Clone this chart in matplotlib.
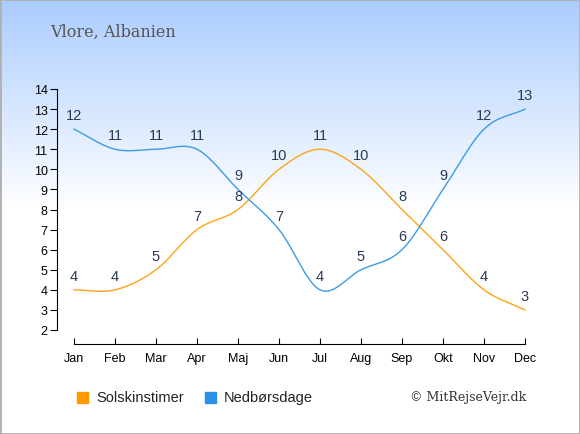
import numpy as np
import matplotlib.pyplot as plt
from matplotlib.patches import Rectangle

months = ["Jan", "Feb", "Mar", "Apr", "Maj", "Jun", "Jul", "Aug", "Sep", "Okt", "Nov", "Dec"]
sun_hours = [4, 4, 5, 7, 8, 10, 11, 10, 8, 6, 4, 3]
rain_days = [12, 11, 11, 11, 9, 7, 4, 5, 6, 9, 12, 13]

sun_color = "#ffa31a"
rain_color = "#3c9be8"
label_color = "#2b3a55"


def smooth(y, steps=30):
    # Catmull-Rom spline through the points, just for drawing
    y = np.asarray(y, dtype=float)
    p = np.concatenate([[2 * y[0] - y[1]], y, [2 * y[-1] - y[-2]]])
    xs, ys = [], []
    for i in range(len(y) - 1):
        p0, p1, p2, p3 = p[i], p[i + 1], p[i + 2], p[i + 3]
        t = np.linspace(0, 1, steps, endpoint=False)
        seg = 0.5 * ((2 * p1) + (-p0 + p2) * t + (2 * p0 - 5 * p1 + 4 * p2 - p3) * t ** 2
                     + (-p0 + 3 * p1 - 3 * p2 + p3) * t ** 3)
        xs.append(i + t)
        ys.append(seg)
    xs.append([len(y) - 1])
    ys.append([y[-1]])
    return np.concatenate(xs), np.concatenate(ys)


W, H = 580, 435
fig = plt.figure(figsize=(W / 100, H / 100), dpi=100)

# gradient background: blue at top, white from about y=210 px down
bg = fig.add_axes([0, 0, 1, 1], zorder=-10)
rows = np.arange(H)[:, None]
grad = np.clip(rows / 210.0, 0, 1)
top = np.array([0.67, 0.80, 1.0])
bot = np.array([1.0, 1.0, 1.0])
img = top[None, None, :] * (1 - grad[:, :, None]) + bot[None, None, :] * grad[:, :, None]
img = img * np.ones((1, 2, 1))
bg.imshow(img, aspect="auto", extent=[0, 1, 0, 1])
bg.add_patch(Rectangle((0, 0), 1, 1, fill=False, edgecolor="#b0b0b0", lw=2,
                       transform=bg.transAxes))
bg.set_axis_off()

ax = fig.add_axes([74 / W, (H - 331) / H, (525 - 74) / W, (331 - 90) / H])
ax.patch.set_alpha(0)

x = np.arange(len(months))
sx, sy = smooth(sun_hours)
rx, ry = smooth(rain_days)
ax.plot(sx, sy, color=sun_color, lw=1, clip_on=False)
ax.plot(rx, ry, color=rain_color, lw=1, clip_on=False)

for i in x:
    ax.annotate(str(sun_hours[i]), (i, sun_hours[i]), xytext=(0, 5), textcoords="offset points",
                ha="center", va="bottom", color=label_color, fontsize=10.5,
                family="Liberation Sans")
    ax.annotate(str(rain_days[i]), (i, rain_days[i]), xytext=(0, 5), textcoords="offset points",
                ha="center", va="bottom", color=label_color, fontsize=10.5,
                family="Liberation Sans")

ax.set_xlim(0, 11)
ax.set_ylim(2, 14)
ax.set_xticks(x)
ax.set_xticklabels(months)
ax.set_yticks(range(2, 15))
for s in ["top", "right"]:
    ax.spines[s].set_visible(False)
ax.spines["left"].set_position(("outward", 12))
ax.spines["bottom"].set_position(("outward", 10))
ax.tick_params(axis="y", direction="out", length=5, labelsize=9, pad=2)
ax.tick_params(axis="x", direction="in", length=4, labelsize=9, pad=6)
for lab in ax.get_xticklabels() + ax.get_yticklabels():
    lab.set_family("Liberation Sans")

fig.text(50 / W, 1 - 32 / H, "Vlore, Albanien", family="DejaVu Serif", fontsize=11.5,
         color="#555555", va="center", ha="left")

# legend
fig.patches.append(Rectangle((77 / W, 1 - 404 / H), 11 / W, 11 / H, color="#ff9900",
                             transform=fig.transFigure))
fig.text(96 / W, 1 - 398 / H, "Solskinstimer", family="Liberation Sans", fontsize=10.5,
         color="#222222", va="center")
fig.patches.append(Rectangle((205 / W, 1 - 404 / H), 11 / W, 11 / H, color="#2b8fe6",
                             transform=fig.transFigure))
fig.text(224 / W, 1 - 398 / H, "Nedbørsdage", family="Liberation Sans", fontsize=10.5,
         color="#222222", va="center")
fig.text(526 / W, 1 - 398 / H, "© MitRejseVejr.dk", family="DejaVu Serif", fontsize=9,
         color="#333333", va="center", ha="right")

fig.savefig("out.png", dpi=100)
